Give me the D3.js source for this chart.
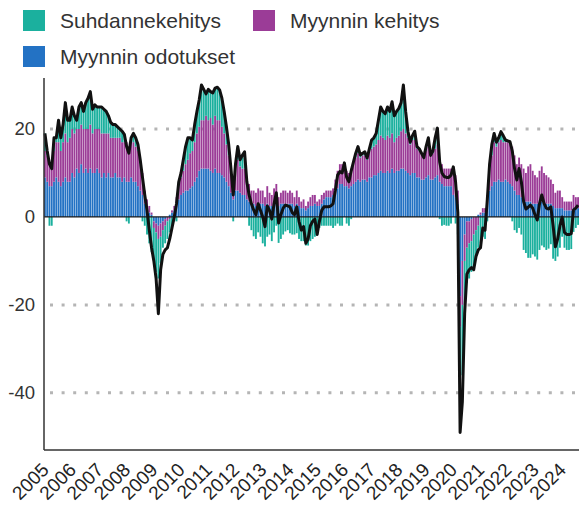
<!DOCTYPE html>
<html>
<head>
<meta charset="utf-8">
<script src="https://cdn.jsdelivr.net/npm/d3@7"></script>
<style>
  body { margin: 0; background: #fff; }
  text { font-family: 'Liberation Sans', Arial, sans-serif; }
</style>
</head>
<body>
<script>
// monthly values, Jan 2005 - Aug 2024
var months = d3.timeMonth.range(new Date(2005, 0, 1), new Date(2024, 8, 1));
var yearLabels = d3.range(2005, 2025).map(String);
var yTicks = [20, 0, -20, -40];

var seriesNames = ['Suhdannekehitys', 'Myynnin kehitys', 'Myynnin odotukset'];

var total = [
  19, 15, 12, 11, 18, 18, 22, 18, 21, 26, 22, 22,
  25, 23, 22, 25, 26, 24, 26, 27, 28.5, 24.5, 25.5, 25,
  25, 25, 24.5, 24, 23, 21.5, 21, 21, 20.5, 20, 19.5, 18.8,
  16, 14.5, 18, 19, 18, 16.5, 13, 9, 5, 1.5, -3, -7,
  -10, -14, -22, -12, -8.5, -7.5, -7, -5, -2.5, 0, 3, 8,
  10, 13, 16, 18, 18, 17.5, 21, 24, 26.6, 30, 29, 28,
  29, 28.5, 28.2, 29.3, 29.5, 28.9, 27, 24, 20.5, 16.5, 11, 5,
  12, 16, 13, 14, 14.8, 8, 5, 3, 1.6, 0.5, 3, 1.5,
  0, -2.2, 2.5, 1.5, -0.5, 3, 5.5, -1.4, 0.5, 2, 2.7, 2.5,
  2.3, 1, 0.5, 2.3, -1, -3, -2.2, -6, -5, -2, -1, -0.5,
  -4, -1, 1.5, 2.3, 2.3, 2.3, 2.5, 3, 6, 9.5, 10.3, 10,
  12.3, 9, 8, 10.5, 12.5, 14.5, 16, 14.1, 14.5, 14.8, 13.4, 15.5,
  17.5, 18, 19, 22, 25, 24, 23.5, 25, 24, 26.2, 23, 24,
  24.7, 26, 30, 24, 19.5, 17, 18.5, 19.5, 16, 15.5, 14.5, 13.5,
  16, 18, 14, 15, 18, 20.2, 12.5, 10, 9.2, 9, 9, 9.5,
  11.4, 8, 1, -49, -42, -22, -13, -12, -11.5, -12, -9, -7.5,
  -7, -2.5, -3, 4, 12, 16.5, 19, 17, 18, 19.4, 18.5, 17.5,
  17.3, 17.1, 15, 11, 8.4, 11, 8, 3.5, 1.8, 2.2, 2.7, 2,
  0.5, -0.7, 3, 5, 3.1, 2, 1.8, 2.3, -2, -6.8, -5, -2,
  0, -3.5, -4, -4, -3.8, 1.6, 2, 2.7
];

var odotukset = [
  9, 8, 7, 7, 8, 9, 8, 7, 8, 9, 8, 8,
  10, 9, 11, 10, 12, 10, 11, 10, 11, 10, 10, 11,
  10, 9, 10, 9, 10, 9, 9, 10, 9, 9, 8, 9,
  8, 8, 9, 8, 8, 7, 6, 5, 3, 2, 1, 0.5,
  -1, -1.5, -2, -1.5, -1, -0.5, 0, 0.5, 1, 1.5, 2.5, 4,
  5, 5.5, 6, 6, 6.5, 7, 8, 9, 10.5, 11, 11, 11,
  11, 10.5, 10, 11, 10, 10, 9.5, 9, 8, 7, 5.5, 4,
  6, 6, 5.5, 5, 5, 4, 3.5, 3, 3, 2.5, 3, 3,
  3, 2.5, 3, 2.5, 2.5, 3, 3.5, 2.5, 3, 3, 3, 3,
  3, 3, 2.5, 3, 2.5, 2, 2, 1.5, 2, 2.5, 2.5, 3,
  2.5, 2.5, 3, 4, 4.5, 4.5, 4.5, 5, 5.5, 6.5, 7.5, 7.5,
  7, 7, 6.5, 7, 7.5, 8, 8.5, 8, 8.5, 8.5, 8, 9,
  9, 9.5, 9.5, 10, 10.5, 10, 10, 10.5, 10, 11, 10, 10.5,
  10.5, 11, 11, 10.5, 10, 9.5, 10, 10, 9, 9, 8.5, 8.5,
  9, 9.5, 8.5, 8.5, 9, 9.5, 8, 7.5, 7, 7, 7, 7,
  5, 4.5, 3, -18, -10, -4, -1, -1, -0.5, 0, 0, 0.5,
  0.5, 1, 1, 3, 6, 7, 8, 8, 8.5, 8, 8, 8.5,
  8, 7.5, 7, 6, 5, 5, 4.5, 4, 3.5, 3.5, 3.5, 3,
  3, 3, 3.5, 3.5, 3, 3, 3, 3, 2.5, 2, 2, 2,
  2, 1.5, 1.5, 1.5, 1.5, 2, 2, 2
];

var kehitys = [
  6, 6, 5, 5, 7, 8, 9, 8, 9, 10, 9, 10,
  10, 10, 9, 10, 9, 10, 9, 10, 10, 9, 10, 9,
  10, 10, 9, 10, 9, 9, 9, 8, 9, 9, 9, 8,
  9, 8, 9, 9, 8, 8, 6, 5, 3, 2, 1.5, 0.5,
  -1.5, -2, -3, -3, -2, -1.5, -1, -0.5, 0.5, 1, 2, 3,
  4, 5, 6, 7, 8, 8, 9, 10, 10, 11, 11, 12,
  11, 12, 11, 12, 12, 12, 11, 10, 8.5, 7, 5, 2,
  6, 7, 6, 6, 6, 4, 4, 3, 3, 3, 3.5, 3,
  3, 2, 4, 3, 2.5, 3.5, 4, 2, 2.5, 3, 3, 2.5,
  3, 2.5, 2, 3, 2, 1.5, 2, 1, 1.5, 2, 2.5, 2,
  1, 1.5, 2, 1.5, 1.5, 1.5, 1.5, 1.5, 3, 4, 4.5, 4.5,
  5, 3.5, 3.5, 4, 5, 5.5, 6, 5.5, 5.5, 5.5, 5, 6,
  6.5, 6.5, 7, 7.5, 8, 8, 7.5, 8, 8, 8, 7, 7.5,
  8, 8.5, 9, 8.5, 8, 7, 7.5, 7.5, 6.5, 6, 6, 5,
  6, 6.5, 5.5, 6, 6.5, 7, 5, 4.5, 4, 4, 4, 4,
  6, 5, 3, -7, -10, -6, -6, -5, -5, -4, -3, -2,
  0.5, 1, 1, 2, 5, 7, 9, 8, 8.5, 9.5, 9, 8.5,
  9, 9, 9, 8, 7, 8.5, 7.5, 7, 6.5, 8, 8.5, 7.5,
  6.5, 6, 7, 8, 7, 6.5, 6, 5.5, 5, 3.5, 4, 4,
  2.5, 2, 2, 2, 2, 3, 2.5, 2.5
];

var suhdanne = [
  4, 1, -2, -2, 3, 1, 5, 3, 4, 7, 5, 4,
  5, 4, 2, 5, 5, 4, 6, 7, 7.5, 5.5, 5.5, 5,
  5, 6, 5.5, 5, 4, 3.5, 3, 3, 2.5, 2, 2.5, 1.8,
  -1, -1.5, 0, 2, 2, 1.5, 1, -1, -2, -4, -6, -8,
  -7, -9, -9, -6, -4, -4, -4, -3, -2, -1, -1, 1,
  1, 2.5, 4, 5, 3.5, 2.5, 4, 5, 6.1, 8, 7, 5,
  7, 6, 7.2, 6.3, 7.5, 6.9, 6.5, 5, 4, 2.5, 0.5, -1,
  0, 3, 1.5, 3, 3.8, 0, -2, -3, -4.4, -5, -3.5, -4.5,
  -6, -6.7, -4.5, -4, -5.5, -3.5, -2, -5.9, -5, -4, -3.3, -3,
  -3.7, -4, -4, -3.7, -5, -5.5, -5.5, -6.5, -6.5, -5.5, -5, -4.5,
  -3, -2.5, -2, -2, -2, -2, -2, -2.5, -2, -1.5, -2, -2,
  0.3, -1.5, -2, -0.5, 0, 1, 1.5, 0.6, 0.5, 0.8, 0.4, 0.5,
  2, 2, 2.5, 4.5, 6.5, 6, 6, 6.5, 6, 7.2, 6, 6,
  6.2, 6.5, 10, 5, 1.5, 0.5, 1, 2, 0.5, 0.5, 0, 0,
  1, 2, 0, 0.5, 2.5, 3.7, -0.5, -2, -1.8, -2, -2, -1.5,
  0.4, -1.5, -4, -18, -16, -10, -8, -8, -7, -8, -6, -5,
  -6, -4.5, -5, -1, 1, 2.5, 2, 1, 1, 1.9, 1.5, 0.5,
  0.3, 0.6, -1, -3, -3.6, -2.5, -4, -7.5, -8.2, -9.3, -9.3, -8.5,
  -9, -9.7, -7.5, -6.5, -6.9, -7.5, -7.2, -6.2, -9.5, -10, -9, -7,
  -4.5, -7, -7.5, -7.5, -7.3, -3.4, -2.5, -1.8
];

var colors = {
  suhdanne: '#1bb09e',
  kehitys: '#9b3c97',
  odotukset: '#2372c4'
};

var width = 579, height = 506;
var plotLeft = 44, plotRight = 579, plotTop = 78, plotBottom = 450;

var svg = d3.select('body').append('svg')
  .attr('width', width)
  .attr('height', height);

var rows = months.map(function(m, i) {
  return { month: m, odotukset: odotukset[i], kehitys: kehitys[i], suhdanne: suhdanne[i] };
});

var x = d3.scaleBand()
  .domain(d3.range(months.length))
  .range([plotLeft, plotRight])
  .paddingInner(0.18);

var y = d3.scaleLinear()
  .domain([-53, 31.6])
  .range([plotBottom, plotTop]);

// dotted grid
svg.selectAll('.grid')
  .data(yTicks.filter(function(d) { return d !== 0; }))
  .enter().append('line')
  .attr('class', 'grid')
  .attr('x1', plotLeft + 6).attr('x2', plotRight)
  .attr('y1', function(d) { return y(d); })
  .attr('y2', function(d) { return y(d); })
  .attr('stroke', '#b5b5b5')
  .attr('stroke-width', 3)
  .attr('stroke-dasharray', '3,8.6');

var stack = d3.stack()
  .keys(['odotukset', 'kehitys', 'suhdanne'])
  .offset(d3.stackOffsetDiverging);

var layers = stack(rows);

svg.selectAll('g.layer')
  .data(layers)
  .enter().append('g')
  .attr('class', 'layer')
  .attr('fill', function(d) { return colors[d.key]; })
  .selectAll('rect')
  .data(function(d) { return d; })
  .enter().append('rect')
  .attr('x', function(d, i) { return x(i); })
  .attr('width', x.bandwidth())
  .attr('y', function(d) { return y(Math.max(d[0], d[1])); })
  .attr('height', function(d) { return Math.abs(y(d[0]) - y(d[1])); });

// zero line
svg.append('line')
  .attr('x1', plotLeft).attr('x2', plotRight)
  .attr('y1', y(0)).attr('y2', y(0))
  .attr('stroke', '#1a1a1a')
  .attr('stroke-width', 1.3);

var line = d3.line()
  .x(function(d, i) { return x(i) + x.bandwidth() / 2; })
  .y(function(d) { return y(d); });

svg.append('path')
  .datum(total)
  .attr('d', line)
  .attr('fill', 'none')
  .attr('stroke', '#111')
  .attr('stroke-width', 3)
  .attr('stroke-linejoin', 'round');

// axis lines
svg.append('line')
  .attr('x1', plotLeft).attr('x2', plotLeft)
  .attr('y1', plotTop).attr('y2', plotBottom)
  .attr('stroke', '#333').attr('stroke-width', 1.5);

svg.append('line')
  .attr('x1', plotLeft).attr('x2', plotRight)
  .attr('y1', plotBottom).attr('y2', plotBottom)
  .attr('stroke', '#333').attr('stroke-width', 1.5);

svg.selectAll('.ytick')
  .data(yTicks)
  .enter().append('text')
  .attr('class', 'ytick')
  .attr('x', 35)
  .attr('y', function(d) { return y(d); })
  .attr('dy', '0.35em')
  .attr('text-anchor', 'end')
  .attr('fill', '#333')
  .style('font-size', '18.5px')
  .text(function(d) { return d; });

svg.selectAll('.xtick')
  .data(yearLabels)
  .enter().append('text')
  .attr('class', 'xtick')
  .attr('transform', function(d, i) {
    var xi = x(i * 12) + x.bandwidth() / 2 + 5;
    return 'translate(' + xi + ',' + 471 + ') rotate(-45)';
  })
  .attr('text-anchor', 'end')
  .attr('fill', '#222')
  .style('font-size', '19px')
  .text(function(d) { return d; });

// legend
var legendItems = [
  { name: seriesNames[0], color: colors.suhdanne, x: 23, y: 10 },
  { name: seriesNames[1], color: colors.kehitys, x: 253, y: 10 },
  { name: seriesNames[2], color: colors.odotukset, x: 23, y: 46 }
];

var legend = svg.selectAll('g.legend')
  .data(legendItems)
  .enter().append('g')
  .attr('class', 'legend');

legend.append('rect')
  .attr('x', function(d) { return d.x; })
  .attr('y', function(d) { return d.y; })
  .attr('width', 22)
  .attr('height', 21)
  .attr('fill', function(d) { return d.color; });

legend.append('text')
  .attr('x', function(d) { return d.x + 37; })
  .attr('y', function(d) { return d.y + 11; })
  .attr('dy', '0.35em')
  .attr('fill', '#333')
  .style('font-size', '21px')
  .text(function(d) { return d.name; });
</script>
</body>
</html>
